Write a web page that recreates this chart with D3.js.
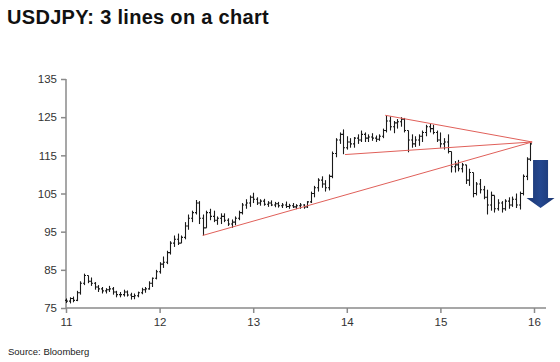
<!DOCTYPE html>
<html>
<head>
<meta charset="utf-8">
<script src="https://cdn.jsdelivr.net/npm/d3@7"></script>
<style>
  body { margin: 0; background: #fff; }
  svg { display: block; font-family: Arial, "Liberation Sans", sans-serif; }
  .title { font-size: 20px; font-weight: bold; fill: #111; letter-spacing: 0.3px; }
  .source { font-size: 9.5px; fill: #222; }
  .axis path, .axis line { stroke: #8a8a8a; stroke-width: 1.5; }
  .axis text { font-size: 11.5px; fill: #333; font-family: Arial, "Liberation Sans", sans-serif; }
</style>
</head>
<body>
<svg id="chart" width="560" height="362"></svg>
<script>
// --- data: bi-weekly bars (year axis 11..16) ---
const yearTicks = [11, 12, 13, 14, 15, 16];
const priceTicks = [75, 85, 95, 105, 115, 125, 135];
const barsPerYear = 26;
const firstOpen = 77.0;

const highs = [
  77.5,77.8,78.0,79.5,82.0,84.0,83.5,83.0,81.8,81.0,80.5,80.2,80.8,80.5,79.5,79.2,79.8,79.6,79.0,78.8,79.3,80.3,80.5,82.0,83.0,85.0,
  87.0,88.5,90.0,92.5,94.0,94.5,94.0,97.5,99.5,100.5,103.3,103.0,99.5,100.5,101.0,100.5,99.0,99.8,99.8,98.5,98.2,99.0,100.5,102.5,103.5,104.5,
  105.2,104.0,103.5,103.6,103.0,103.2,102.8,102.8,102.5,102.9,102.3,102.5,102.2,102.5,102.2,103.0,105.5,107.0,109.0,109.5,108.5,110.0,116.0,119.5,121.0,121.8,
  120.0,119.5,119.8,120.5,121.5,121.0,120.5,120.8,120.2,120.5,122.0,125.5,125.2,124.0,124.5,125.0,124.8,121.5,120.5,120.0,120.5,121.5,123.0,123.2,123.0,121.5,
  121.0,119.5,120.5,116.0,113.5,113.8,113.0,112.5,111.5,110.5,108.0,108.8,107.0,106.0,105.5,104.5,103.5,103.0,103.5,104.0,104.2,105.0,105.5,110.0,114.5,118.5
];
const lows = [
  76.3,76.2,76.5,76.8,78.5,81.0,81.5,80.8,79.8,79.2,78.8,78.8,79.2,78.5,77.8,77.8,78.0,78.0,77.2,77.3,77.8,78.6,79.0,79.8,80.5,82.5,
  84.0,85.5,86.5,89.0,91.0,91.5,92.0,93.0,95.5,97.5,99.5,97.0,94.0,96.0,98.0,97.5,96.8,97.0,97.5,96.5,96.0,96.7,98.0,99.5,101.0,101.5,
  102.5,102.0,101.8,101.8,101.5,101.7,101.4,101.3,101.2,101.2,101.0,101.2,100.9,101.0,101.0,101.2,102.5,104.0,105.5,106.5,105.5,105.8,109.0,114.5,118.0,115.3,
  116.5,117.0,117.0,118.0,118.5,118.5,118.5,118.8,118.5,118.8,119.5,121.0,121.5,120.8,122.0,122.5,121.0,115.8,117.0,117.2,117.5,118.5,120.0,121.0,120.5,118.5,
  117.0,116.5,115.5,110.5,110.5,110.8,110.5,107.5,107.0,104.0,104.5,105.0,103.5,99.5,100.5,100.0,100.5,100.0,100.5,101.0,101.5,101.2,100.8,104.5,108.5,113.5
];
const closes = [
  76.8,77.5,77.0,79.0,81.5,83.5,82.0,81.5,80.5,80.0,79.5,79.8,80.0,79.2,78.5,78.5,79.2,78.4,78.0,78.2,79.0,79.8,80.0,81.5,82.8,84.5,
  86.5,87.0,89.5,92.0,93.0,92.0,93.5,96.5,98.5,100.0,102.5,98.5,96.0,100.0,99.0,98.0,98.5,99.0,98.0,97.0,97.5,98.5,100.0,102.0,102.5,104.0,
  103.5,102.5,103.0,102.2,102.5,102.0,102.3,101.8,102.0,101.6,101.8,101.5,101.8,102.0,101.5,102.8,105.0,106.5,108.5,107.5,106.5,109.5,115.5,119.0,120.5,117.0,
  118.5,118.0,119.5,119.0,120.5,119.5,119.8,119.5,119.2,120.0,121.5,124.0,122.5,123.5,123.8,124.5,121.5,119.0,118.0,119.0,120.0,121.0,122.5,122.0,121.0,119.0,
  118.0,118.5,116.0,112.0,112.5,111.5,112.5,108.5,110.5,105.0,107.5,106.0,104.0,102.0,104.5,101.0,102.5,101.0,103.0,102.0,103.5,102.0,105.0,109.5,114.0,118.0
];

// the three trend lines: [startYear, startPrice, endYear, endPrice]
const trendLines = [
  [12.46, 94.0, 15.98, 118.5],
  [14.41, 125.5, 15.98, 118.5],
  [13.98, 115.2, 15.98, 118.5]
];

const svg = d3.select("#chart");

const x = d3.scaleLinear().domain([11, 16]).range([66, 534]);
const y = d3.scaleLinear().domain([75, 135]).range([308, 79]);

svg.append("text").attr("class", "title").attr("x", 7).attr("y", 24)
  .text("USDJPY: 3 lines on a chart");

svg.append("text").attr("class", "source").attr("x", 8).attr("y", 355)
  .text("Source: Bloomberg");

// axes
const yAxis = svg.append("g").attr("class", "axis").attr("transform", "translate(66,0)")
  .call(d3.axisLeft(y).tickValues(priceTicks).tickSize(5).tickPadding(4));
yAxis.select(".domain").attr("d", `M0,${y(135)}V${y(75)}`);

const xAxis = svg.append("g").attr("class", "axis").attr("transform", "translate(0,308)")
  .call(d3.axisBottom(x).tickValues(yearTicks).tickFormat(d3.format("d")).tickSize(5).tickPadding(5));
xAxis.select(".domain").attr("d", `M66,0H546`);

// OHLC bars
const bars = highs.map((h, i) => ({
  t: 11 + i / barsPerYear,
  high: h,
  low: lows[i],
  open: i === 0 ? firstOpen : closes[i - 1],
  close: closes[i]
}));

const g = svg.append("g").attr("stroke", "#1a1a1a").attr("stroke-width", 1.1);
bars.forEach(d => {
  const cx = Math.round(x(d.t)) + 0.5;
  g.append("line").attr("x1", cx).attr("x2", cx).attr("y1", y(d.high)).attr("y2", y(d.low));
  g.append("line").attr("x1", cx - 1.5).attr("x2", cx).attr("y1", y(d.open)).attr("y2", y(d.open));
  g.append("line").attr("x1", cx).attr("x2", cx + 1.5).attr("y1", y(d.close)).attr("y2", y(d.close));
});

// trend lines
svg.append("g").selectAll("line").data(trendLines).enter().append("line")
  .attr("x1", d => x(d[0])).attr("y1", d => y(d[1]))
  .attr("x2", d => x(d[2])).attr("y2", d => y(d[3]))
  .attr("stroke", "#e0605a").attr("stroke-width", 1);

// blue down arrow to the right of the last bar
const ax = x(16.07), arrowTop = 160;
const arrow = `M${ax - 7.5},${arrowTop} H${ax + 7.5} V${arrowTop + 38} H${ax + 14} L${ax},${arrowTop + 48} L${ax - 14},${arrowTop + 38} H${ax - 7.5} Z`;
const grad = svg.append("defs").append("linearGradient").attr("id", "blue")
  .attr("x1", "0").attr("x2", "1").attr("y1", "0").attr("y2", "0");
grad.append("stop").attr("offset", "0").attr("stop-color", "#1b3670");
grad.append("stop").attr("offset", "0.5").attr("stop-color", "#24478f");
grad.append("stop").attr("offset", "1").attr("stop-color", "#1b3670");
svg.append("path").attr("d", arrow).attr("fill", "url(#blue)");
</script>
</body>
</html>
